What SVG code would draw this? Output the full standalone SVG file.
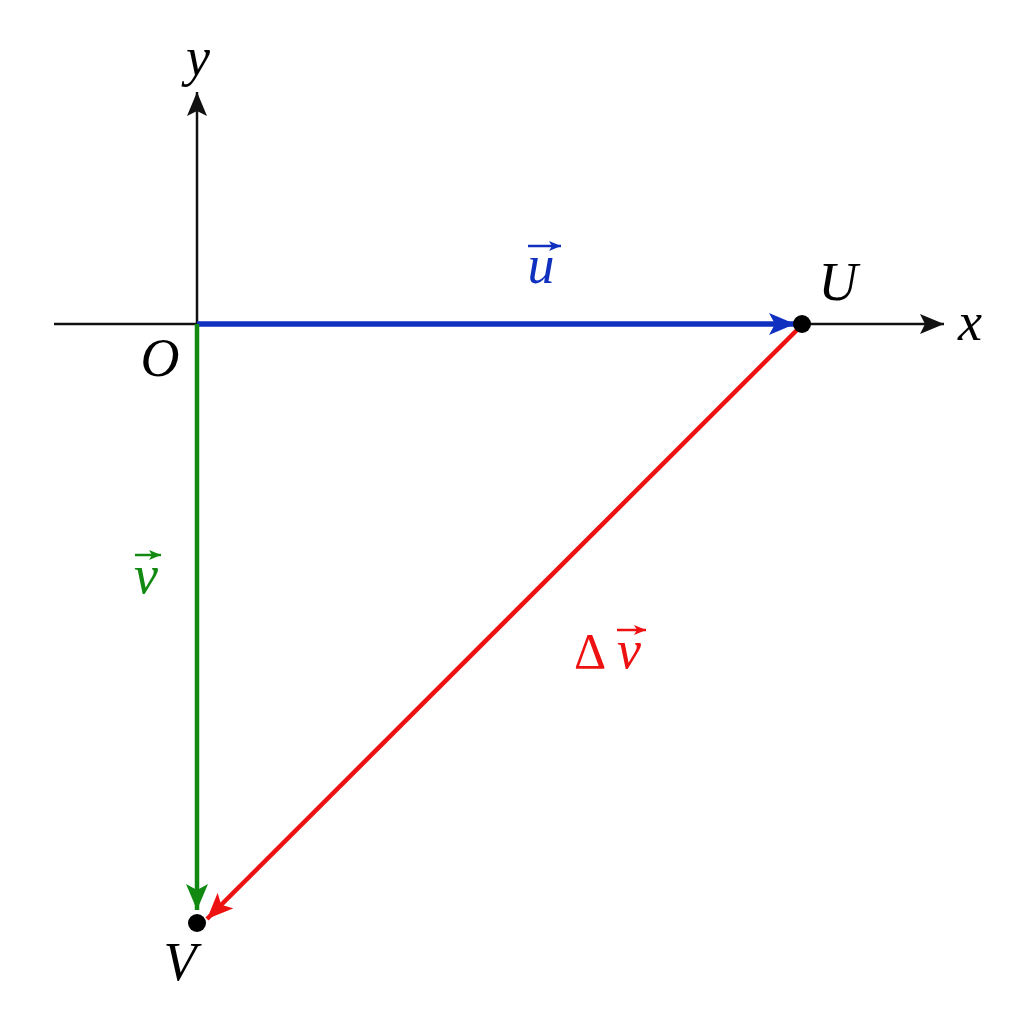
<svg xmlns="http://www.w3.org/2000/svg" width="1024" height="1024" viewBox="0 0 1024 1024">
<defs>
<style>
.ax{stroke:#111;stroke-width:2.5;fill:none;}
.t{font-family:'Liberation Serif','Times New Roman','DejaVu Serif','Noto Serif',serif;font-style:italic;font-size:54px;}
</style>
<marker id="ahKb" viewBox="0 0 24 20" refX="24" refY="10" markerWidth="24" markerHeight="20" markerUnits="userSpaceOnUse" orient="auto"><path d="M0,0 L24,10 L0,20 L5,10 Z" fill="#111"/></marker>
<marker id="ahB" viewBox="0 0 26 22" refX="26" refY="11" markerWidth="26" markerHeight="22" markerUnits="userSpaceOnUse" orient="auto"><path d="M0,0 L26,11 L0,22 L6,11 Z" fill="#1030c0"/></marker>
<marker id="ahG" viewBox="0 0 26 22" refX="26" refY="11" markerWidth="26" markerHeight="22" markerUnits="userSpaceOnUse" orient="auto"><path d="M0,0 L26,11 L0,22 L6,11 Z" fill="#128a12"/></marker>
<marker id="ahR" viewBox="0 0 26 22" refX="26" refY="11" markerWidth="26" markerHeight="22" markerUnits="userSpaceOnUse" orient="auto"><path d="M0,0 L26,11 L0,22 L6,11 Z" fill="#ee1111"/></marker>
<marker id="ahBs" viewBox="0 0 12 10" refX="12" refY="5" markerWidth="12" markerHeight="11" markerUnits="userSpaceOnUse" orient="auto"><path d="M0,0 L12,5 L0,10 L3,5 Z" fill="#1030c0"/></marker>
<marker id="ahGs" viewBox="0 0 12 10" refX="12" refY="5" markerWidth="12" markerHeight="11" markerUnits="userSpaceOnUse" orient="auto"><path d="M0,0 L12,5 L0,10 L3,5 Z" fill="#128a12"/></marker>
<marker id="ahRs" viewBox="0 0 12 10" refX="12" refY="5" markerWidth="12" markerHeight="11" markerUnits="userSpaceOnUse" orient="auto"><path d="M0,0 L12,5 L0,10 L3,5 Z" fill="#ee1111"/></marker>
</defs>
<rect width="1024" height="1024" fill="#fff"/>
<g id="axes">
<line class="ax" x1="54" y1="324" x2="944" y2="324" marker-end="url(#ahKb)"/>
<line class="ax" x1="197" y1="324" x2="197" y2="92" marker-end="url(#ahKb)"/>
</g>
<g id="connectors">
<line x1="197" y1="324" x2="795" y2="324" stroke="#1030c0" stroke-width="5.5" marker-end="url(#ahB)"/>
<line x1="197" y1="324" x2="197" y2="910" stroke="#128a12" stroke-width="4.5" marker-end="url(#ahG)"/>
<line x1="798" y1="329" x2="207" y2="919" stroke="#ee1111" stroke-width="4.5" marker-end="url(#ahR)"/>
</g>
<g id="node-U"><circle cx="802" cy="324" r="9" fill="#000"/><text class="t" x="838" y="300" text-anchor="middle">U</text></g>
<g id="node-V"><circle cx="197" cy="923" r="9" fill="#000"/><text class="t" x="180" y="980" text-anchor="middle">V</text></g>
<g id="node-O"><text class="t" x="160" y="376" text-anchor="middle">O</text></g>
<g id="label-x"><text class="t" x="970" y="340" text-anchor="middle">x</text></g>
<g id="label-y"><text class="t" x="198" y="75" text-anchor="middle">y</text></g>
<g id="label-u"><text class="t" x="541" y="283" text-anchor="middle" fill="#1030c0">u</text><line x1="528" y1="246" x2="561" y2="246" stroke="#1030c0" stroke-width="2.5" marker-end="url(#ahBs)"/></g>
<g id="label-v"><text class="t" x="146" y="593" text-anchor="middle" fill="#128a12">v</text><line x1="135" y1="555" x2="161" y2="555" stroke="#128a12" stroke-width="2.5" marker-end="url(#ahGs)"/></g>
<g id="label-dv"><text class="t" x="590" y="668" text-anchor="middle" fill="#ee1111" style="font-style:normal;font-size:50px">Δ</text><text class="t" x="629" y="668" text-anchor="middle" fill="#ee1111">v</text><line x1="617" y1="630" x2="646" y2="630" stroke="#ee1111" stroke-width="2.5" marker-end="url(#ahRs)"/></g>
</svg>
